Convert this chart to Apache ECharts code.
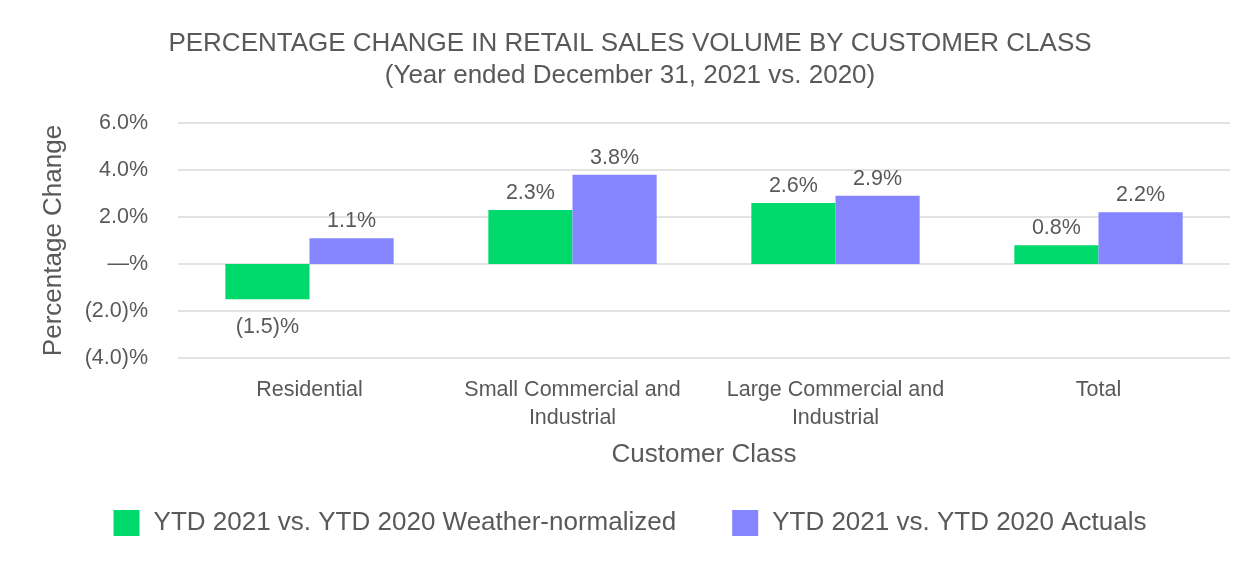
<!DOCTYPE html>
<html><head><meta charset="utf-8">
<script src="https://cdn.jsdelivr.net/npm/echarts@6/dist/echarts.min.js"></script>
<style>html,body{margin:0;padding:0;background:#fff}#c{width:1260px;height:580px}</style>
</head><body><div id="c"></div>
<script>
var categories = ['Residential', 'Small Commercial and\nIndustrial', 'Large Commercial and\nIndustrial', 'Total'];
var weatherNormalized = [-1.5, 2.3, 2.6, 0.8];
var actuals = [1.1, 3.8, 2.9, 2.2];
var seriesNames = ['YTD 2021 vs. YTD 2020 Weather-normalized', 'YTD 2021 vs. YTD 2020 Actuals'];

function fmt(v){
  if (Math.abs(v) < 1e-9) return '\u2014%';
  var s = Math.abs(v).toFixed(1);
  return v < 0 ? '(' + s + ')%' : s + '%';
}
var txt = '#595959';
var font = 'Liberation Sans, Arial, sans-serif';
var chart = echarts.init(document.getElementById('c'));
function mk(name, data, color){
  return {
    name: name, type: 'bar', data: data.map(function(v){
      return {value: v, label: {position: v < 0 ? 'bottom' : 'top', distance: v < 0 ? 17 : 6}};
    }),
    barWidth: '32%', barGap: '0%',
    itemStyle: {color: color},
    label: {show: true, color: txt, fontSize: 21.5, fontFamily: font,
      formatter: function(p){ return fmt(p.value); }}
  };
}
chart.setOption({
  textStyle: {fontFamily: font},
  title: {
    text: 'PERCENTAGE CHANGE IN RETAIL SALES VOLUME BY CUSTOMER CLASS\n(Year ended December 31, 2021 vs. 2020)',
    left: 'center', top: 23,
    textStyle: {color: txt, fontSize: 26, fontWeight: 'normal', lineHeight: 32, fontFamily: font}
  },
  legend: {
    bottom: 39, left: 'center', itemWidth: 26, itemHeight: 26, itemGap: 56,
    icon: 'rect',
    textStyle: {color: txt, fontSize: 26, fontFamily: font, padding: [0, 0, 0, 9]},
    data: seriesNames
  },
  grid: {left: 178, right: 30, top: 123, bottom: 222},
  xAxis: {
    type: 'category', data: categories,
    name: 'Customer Class', nameLocation: 'middle', nameGap: 84,
    nameTextStyle: {color: txt, fontSize: 26, fontFamily: font},
    axisLine: {show: false}, axisTick: {show: false},
    axisLabel: {color: txt, fontSize: 21.5, lineHeight: 28, margin: 18, fontFamily: font, interval: 0}
  },
  yAxis: {
    type: 'value', min: -4, max: 6, interval: 2,
    name: 'Percentage Change', nameLocation: 'middle', nameGap: 111,
    nameTextStyle: {color: txt, fontSize: 26, fontFamily: font},
    axisLabel: {color: txt, fontSize: 21.5, margin: 30, fontFamily: font, formatter: fmt},
    splitLine: {lineStyle: {color: '#e3e3e3', width: 2}}
  },
  series: [mk(seriesNames[0], weatherNormalized, '#00d96b'), mk(seriesNames[1], actuals, '#8585ff')]
});
</script></body></html>
